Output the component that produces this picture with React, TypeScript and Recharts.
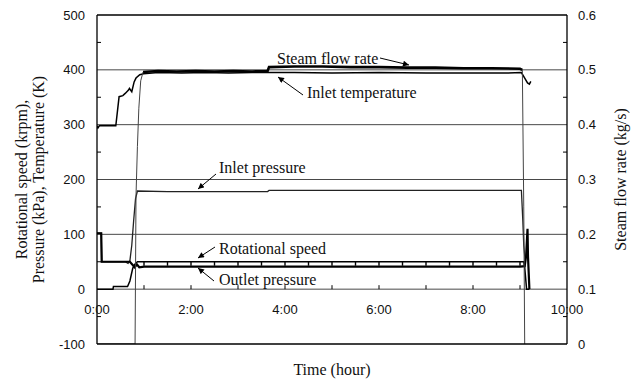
import { LineChart, Line, XAxis, YAxis, ReferenceLine } from "recharts";

// time in hours, left axis: krpm / kPa / K, right axis: kg/s
const hourTicks = [0, 1, 2, 3, 4, 5, 6, 7, 8, 9, 10];
const leftTicks = [-100, -50, 0, 50, 100, 150, 200, 250, 300, 350, 400, 450, 500];
const rightTicks = [0, 0.05, 0.1, 0.15, 0.2, 0.25, 0.3, 0.35, 0.4, 0.45, 0.5, 0.55, 0.6];
const gridValues = [0, 100, 200, 300, 400, 500];

const tempT = [0, 0.02, 0.05, 0.4, 0.47, 0.55, 0.6, 0.67, 0.69, 0.74, 0.79, 0.83, 0.91, 0.99, 1.3, 1.8, 2.3, 2.8, 3.3, 3.65, 4.2, 5, 6, 7, 8, 8.6, 9.03, 9.1, 9.16, 9.2, 9.23];
const tempV = [298, 294, 298, 298, 351, 353, 357, 363, 366, 360, 378, 385, 391, 393, 395, 394, 395, 394, 395, 395, 395, 394, 395, 394, 394, 394, 395, 385, 376, 374, 379];

// steam flow: start-up ramp, steady run, shut-down
const flowRiseT = [0, 0.81, 0.83, 0.86, 0.89, 0.93, 0.98];
const flowRiseV = [0, 0, 0.27, 0.36, 0.43, 0.48, 0.496];
const flowSteadyT = [0.98, 1.3, 1.7, 2.1, 2.5, 2.9, 3.3, 3.63, 3.66, 4.2, 4.8, 5.4, 6, 6.6, 7.2, 7.8, 8.4, 9, 9.05];
const flowSteadyV = [0.496, 0.498, 0.497, 0.498, 0.497, 0.498, 0.497, 0.498, 0.505, 0.506, 0.506, 0.505, 0.505, 0.504, 0.504, 0.503, 0.503, 0.502, 0.5];
const flowFallT = [9.05, 9.08, 9.1];
const flowFallV = [0.5, 0.25, 0];

const inletPT = [0, 0.09, 0.1, 0.6, 0.66, 0.7, 0.74, 0.78, 0.82, 0.86, 1.5, 2.5, 3.63, 3.66, 5, 6.5, 8, 9.03, 9.06, 9.08, 9.11];
const inletPV = [102, 102, 50, 50, 47, 52, 80, 125, 165, 179, 178, 178, 178, 180, 180, 180, 180, 180, 125, 80, 52];

const outletPT = [0, 0.09, 0.1, 0.7, 0.76, 0.8, 0.85, 0.9, 1, 2, 3, 4, 5, 6, 7, 8, 9, 9.1, 9.13, 9.16, 9.17, 9.2];
const outletPV = [102, 102, 50, 50, 44, 40, 45, 40, 41, 41, 41, 41, 41, 41, 41, 41, 41, 42, 60, 110, 60, 0];

const rpmT = [0, 0.34, 0.35, 0.65, 0.7, 0.76, 0.81, 0.86, 1, 1.5, 2, 2.5, 3, 3.5, 4, 4.5, 5, 5.5, 6, 6.5, 7, 7.5, 8, 8.5, 9, 9.08, 9.1, 9.14, 9.2];
const rpmV = [0, 0, 5, 5, 15, 38, 46, 50, 50, 50, 50, 50, 50, 50, 50, 50, 50, 50, 50, 50, 50, 50, 50, 50, 50, 50, 40, 0, 0];
const rpmMarkers = [1, 1.5, 2, 2.5, 3, 3.5, 4, 4.5, 5, 5.5, 6, 6.5, 7, 7.5, 8, 8.5, 9];

const toRows = (ts: number[], vs: number[]) => ts.map((t, i) => ({ t, v: vs[i] }));

// layout
const W = 633;
const H = 383;
const PL = 97;
const PR = 567;
const PT = 15;
const PB = 344;
const ZERO_Y = PT + ((PB - PT) * 500) / 600;

const sans = "'Liberation Sans', Arial, sans-serif";
const serif = "'Liberation Serif', 'Times New Roman', serif";

function LeftTick(props: any) {
  const { y, payload } = props;
  const v = payload.value;
  if (v % 100 === 0) {
    return (
      <text x={PL - 12} y={y} dy={4.6} textAnchor="end" fontFamily={sans} fontSize={13} fill="#111">
        {v}
      </text>
    );
  }
  return <line x1={PL} x2={PL + 4} y1={y} y2={y} stroke="#000" strokeWidth={1} />;
}

function RightTick(props: any) {
  const { y, payload } = props;
  const v = payload.value;
  if (Math.round(v * 100) % 10 === 0) {
    return (
      <text x={PR + 11} y={y} dy={4.6} textAnchor="start" fontFamily={sans} fontSize={13} fill="#111">
        {v === 0 ? "0" : v.toFixed(1)}
      </text>
    );
  }
  return <line x1={PR - 4} x2={PR} y1={y} y2={y} stroke="#000" strokeWidth={1} />;
}

function HourTick(props: any) {
  const { x, payload } = props;
  const v = payload.value;
  return (
    <g>
      {v > 0 && v < 10 && <line x1={x} x2={x} y1={ZERO_Y - 4} y2={ZERO_Y} stroke="#000" strokeWidth={1} />}
      {v % 2 === 0 && (
        <text x={x} y={314} textAnchor="middle" fontFamily={sans} fontSize={13} fill="#111">
          {`${v}:00`}
        </text>
      )}
    </g>
  );
}

function RpmDot(props: any) {
  const { cx, cy, payload, index } = props;
  if (!rpmMarkers.includes(payload.t)) return <g key={`d${index}`} />;
  return <line key={`d${index}`} x1={cx} x2={cx} y1={cy} y2={cy + 4} stroke="#000" strokeWidth={1.4} />;
}

export default function App() {
  return (
    <div style={{ position: "absolute", left: 0, top: 0, width: W, height: H, background: "#fff" }}>
      <LineChart width={W} height={H} margin={{ top: PT, right: 0, bottom: 0, left: 0 }}>
        <XAxis
          type="number"
          dataKey="t"
          domain={[0, 10]}
          ticks={hourTicks}
          interval={0}
          height={H - PB}
          axisLine={{ stroke: "#000", strokeWidth: 1.3 }}
          tickLine={false}
          tick={HourTick}
          allowDataOverflow
        />
        <YAxis
          yAxisId="left"
          type="number"
          domain={[-100, 500]}
          ticks={leftTicks}
          interval={0}
          width={PL}
          axisLine={{ stroke: "#000", strokeWidth: 1.3 }}
          tickLine={false}
          tick={LeftTick}
          allowDataOverflow
        />
        <YAxis
          yAxisId="right"
          orientation="right"
          type="number"
          domain={[0, 0.6]}
          ticks={rightTicks}
          interval={0}
          width={W - PR}
          axisLine={{ stroke: "#000", strokeWidth: 1.3 }}
          tickLine={false}
          tick={RightTick}
          allowDataOverflow
        />
        {gridValues.map((g) => (
          <ReferenceLine
            key={g}
            yAxisId="left"
            y={g}
            stroke={g === 500 ? "#000" : "#333"}
            strokeWidth={g === 500 ? 1.3 : 0.9}
          />
        ))}
        <Line yAxisId="left" data={toRows(inletPT, inletPV)} dataKey="v" stroke="#222" strokeWidth={1.3} dot={false} isAnimationActive={false} />
        <Line yAxisId="left" data={toRows(outletPT, outletPV)} dataKey="v" stroke="#000" strokeWidth={2.2} dot={false} isAnimationActive={false} />
        <Line yAxisId="left" data={toRows(rpmT, rpmV)} dataKey="v" stroke="#000" strokeWidth={1.5} dot={RpmDot} isAnimationActive={false} />
        <Line yAxisId="left" data={toRows(tempT, tempV)} dataKey="v" stroke="#000" strokeWidth={1.5} dot={false} isAnimationActive={false} />
        <Line yAxisId="right" data={toRows(flowRiseT, flowRiseV)} dataKey="v" stroke="#444" strokeWidth={1} dot={false} isAnimationActive={false} />
        <Line yAxisId="right" data={toRows(flowSteadyT, flowSteadyV)} dataKey="v" stroke="#000" strokeWidth={2.6} dot={false} isAnimationActive={false} />
        <Line yAxisId="right" data={toRows(flowFallT, flowFallV)} dataKey="v" stroke="#444" strokeWidth={1} dot={false} isAnimationActive={false} />
      </LineChart>
      <svg width={W} height={H} style={{ position: "absolute", left: 0, top: 0, pointerEvents: "none" }}>
        <defs>
          <marker id="ah" viewBox="0 0 10 10" refX="10" refY="5" markerWidth="7" markerHeight="6" orient="auto">
            <path d="M0,0 L10,5 L0,10 z" fill="#000" />
          </marker>
        </defs>
        <g fontFamily={serif} fontSize={16} fill="#111">
          <text x={277} y={64}>Steam flow rate</text>
          <text x={307} y={98}>Inlet temperature</text>
          <text x={219} y={173}>Inlet pressure</text>
          <text x={219} y={254}>Rotational speed</text>
          <text x={219} y={285}>Outlet pressure</text>
          <text x={(PL + PR) / 2} y={375} textAnchor="middle">Time (hour)</text>
          <text transform={`translate(26.5, ${(PT + PB) / 2}) rotate(-90)`} textAnchor="middle">
            Rotational speed (krpm),
          </text>
          <text transform={`translate(43.5, ${(PT + PB) / 2}) rotate(-90)`} textAnchor="middle">
            Pressure (kPa), Temperature (K)
          </text>
          <text transform={`translate(625.5, ${(PT + PB) / 2}) rotate(-90)`} textAnchor="middle">
            Steam flow rate (kg/s)
          </text>
        </g>
        <g stroke="#000" strokeWidth={1} markerEnd="url(#ah)">
          <line x1={380} y1={58} x2={409} y2={65} />
          <line x1={303} y1={95} x2={278} y2={77} />
          <line x1={216} y1={174} x2={198} y2={189} />
          <line x1={215} y1={247} x2={198} y2={258} />
          <line x1={214} y1={281} x2={198} y2={268} />
        </g>
      </svg>
    </div>
  );
}
